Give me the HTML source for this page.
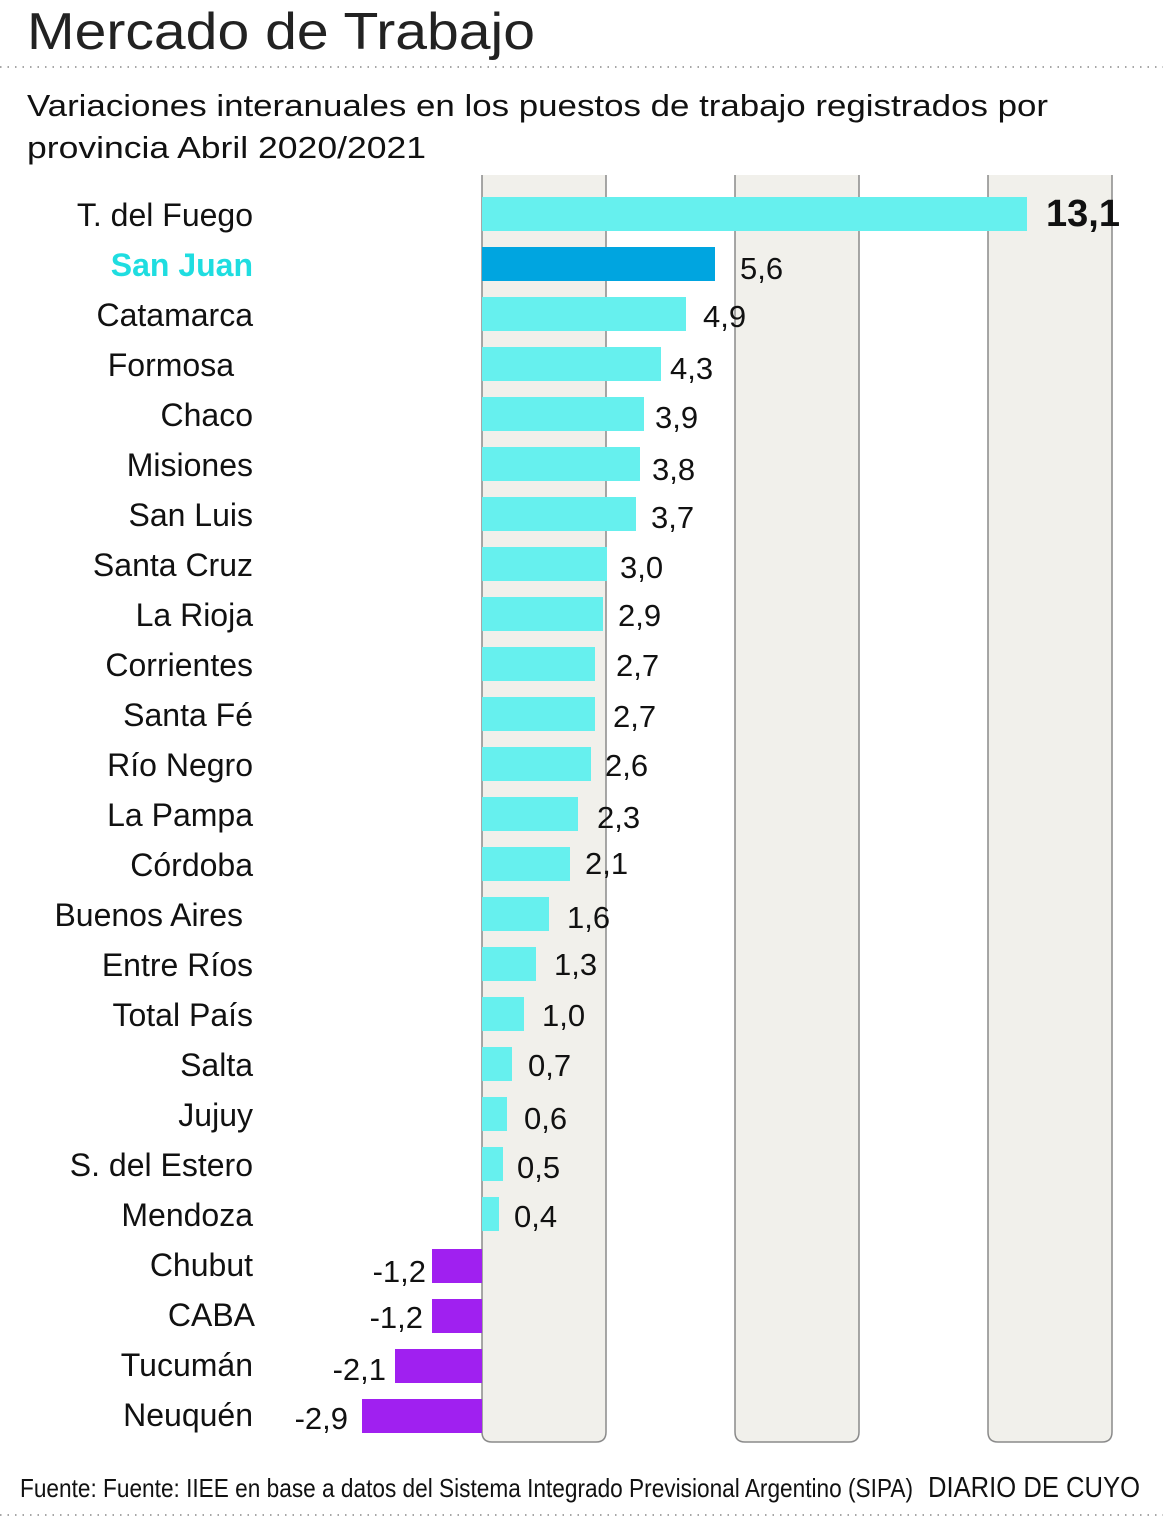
<!DOCTYPE html>
<html><head><meta charset="utf-8"><style>
html,body{margin:0;padding:0;background:#fff;}
svg{display:block;font-family:"Liberation Sans",sans-serif;}
</style></head><body>
<svg width="1163" height="1523" viewBox="0 0 1163 1523" xmlns="http://www.w3.org/2000/svg">
<text x="27" y="49" font-size="52" fill="#222" textLength="508" lengthAdjust="spacingAndGlyphs">Mercado de Trabajo</text>
<line x1="0" y1="67" x2="1163" y2="67" stroke="#888" stroke-width="1.5" stroke-dasharray="1.5,6"/>
<text x="27" y="116" font-size="31" fill="#111" textLength="1021" lengthAdjust="spacingAndGlyphs">Variaciones interanuales en los puestos de trabajo registrados por</text>
<text x="27" y="158" font-size="31" fill="#111" textLength="399" lengthAdjust="spacingAndGlyphs">provincia Abril 2020/2021</text>
<g fill="#f1f0eb" stroke="#8a8a8a" stroke-width="1.5">
<path d="M482 175 V1432 Q482 1442 492 1442 H596 Q606 1442 606 1432 V175"/>
<path d="M735 175 V1432 Q735 1442 745 1442 H849 Q859 1442 859 1432 V175"/>
<path d="M988 175 V1432 Q988 1442 998 1442 H1102 Q1112 1442 1112 1432 V175"/>
</g>
<g font-size="32" fill="#111">
<g text-anchor="end">
<text x="253" y="226">T. del Fuego</text>
<text x="253" y="276" fill="#1fdde0" font-weight="bold">San Juan</text>
<text x="253" y="326">Catamarca</text>
<text x="234" y="376">Formosa</text>
<text x="253" y="426">Chaco</text>
<text x="253" y="476">Misiones</text>
<text x="253" y="526">San Luis</text>
<text x="253" y="576">Santa Cruz</text>
<text x="253" y="626">La Rioja</text>
<text x="253" y="676">Corrientes</text>
<text x="253" y="726">Santa Fé</text>
<text x="253" y="776">Río Negro</text>
<text x="253" y="826">La Pampa</text>
<text x="253" y="876">Córdoba</text>
<text x="243" y="926">Buenos Aires</text>
<text x="253" y="976">Entre Ríos</text>
<text x="253" y="1026">Total País</text>
<text x="253" y="1076">Salta</text>
<text x="253" y="1126">Jujuy</text>
<text x="253" y="1176">S. del Estero</text>
<text x="253" y="1226">Mendoza</text>
<text x="253" y="1276">Chubut</text>
<text x="255" y="1326">CABA</text>
<text x="253" y="1376">Tucumán</text>
<text x="253" y="1426">Neuquén</text>
</g>
</g>
<g fill="#66f0ee">
<rect x="482" y="197" width="545" height="34"/>
<rect x="482" y="297" width="204" height="34"/>
<rect x="482" y="347" width="179" height="34"/>
<rect x="482" y="397" width="162" height="34"/>
<rect x="482" y="447" width="158" height="34"/>
<rect x="482" y="497" width="154" height="34"/>
<rect x="482" y="547" width="125" height="34"/>
<rect x="482" y="597" width="121" height="34"/>
<rect x="482" y="647" width="113" height="34"/>
<rect x="482" y="697" width="113" height="34"/>
<rect x="482" y="747" width="109" height="34"/>
<rect x="482" y="797" width="96" height="34"/>
<rect x="482" y="847" width="88" height="34"/>
<rect x="482" y="897" width="67" height="34"/>
<rect x="482" y="947" width="54" height="34"/>
<rect x="482" y="997" width="42" height="34"/>
<rect x="482" y="1047" width="30" height="34"/>
<rect x="482" y="1097" width="25" height="34"/>
<rect x="482" y="1147" width="21" height="34"/>
<rect x="482" y="1197" width="17" height="34"/>
</g>
<rect x="482" y="247" width="233" height="34" fill="#00a5e0"/>
<g fill="#a020f0">
<rect x="432" y="1249" width="50" height="34"/>
<rect x="432" y="1299" width="50" height="34"/>
<rect x="395" y="1349" width="87" height="34"/>
<rect x="362" y="1399" width="120" height="34"/>
</g>
<g font-size="31" fill="#111">
<text x="1046" y="226" font-weight="bold" font-size="38">13,1</text>
<text x="740" y="279">5,6</text>
<text x="703" y="327">4,9</text>
<text x="670" y="379">4,3</text>
<text x="655" y="428">3,9</text>
<text x="652" y="480">3,8</text>
<text x="651" y="528">3,7</text>
<text x="620" y="578">3,0</text>
<text x="618" y="626">2,9</text>
<text x="616" y="676">2,7</text>
<text x="613" y="727">2,7</text>
<text x="605" y="776">2,6</text>
<text x="597" y="828">2,3</text>
<text x="585" y="874">2,1</text>
<text x="567" y="928">1,6</text>
<text x="554" y="975">1,3</text>
<text x="542" y="1026">1,0</text>
<text x="528" y="1076">0,7</text>
<text x="524" y="1129">0,6</text>
<text x="517" y="1178">0,5</text>
<text x="514" y="1227">0,4</text>
<g text-anchor="end">
<text x="426" y="1282">-1,2</text>
<text x="423" y="1328">-1,2</text>
<text x="386" y="1380">-2,1</text>
<text x="348" y="1429">-2,9</text>
</g>
</g>
<text x="20" y="1497" font-size="26" fill="#111" textLength="893" lengthAdjust="spacingAndGlyphs">Fuente: Fuente: IIEE en base a datos del Sistema Integrado Previsional Argentino (SIPA)</text>
<text x="928" y="1497" font-size="29" fill="#111" textLength="212" lengthAdjust="spacingAndGlyphs">DIARIO DE CUYO</text>
<line x1="0" y1="1515" x2="1163" y2="1515" stroke="#888" stroke-width="1.5" stroke-dasharray="1.5,6"/>
</svg>
</body></html>
